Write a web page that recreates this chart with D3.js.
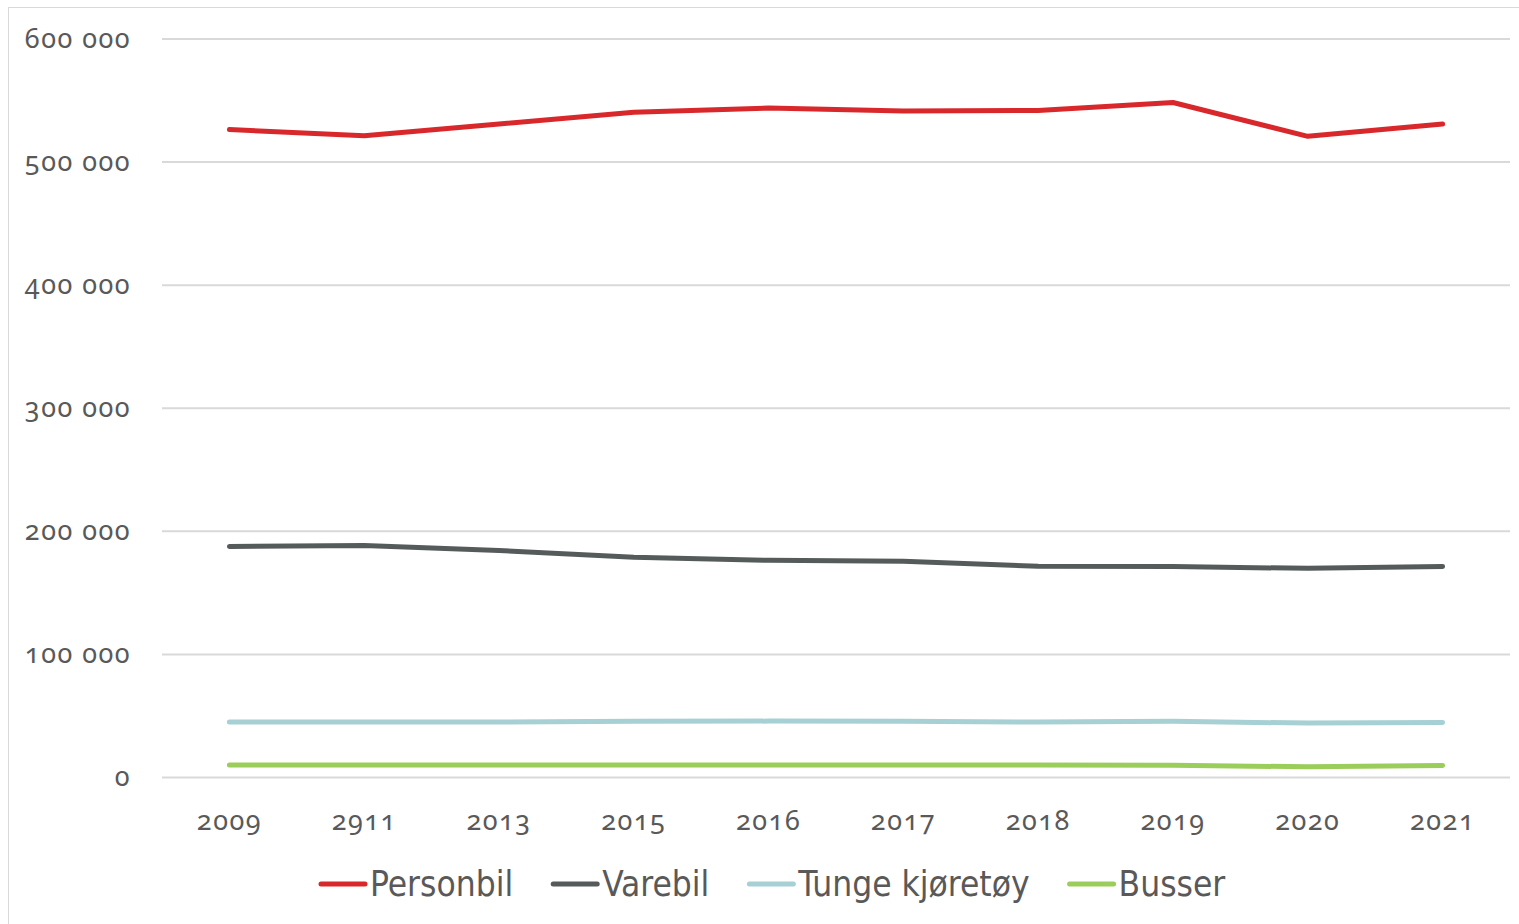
<!DOCTYPE html>
<html>
<head>
<meta charset="utf-8">
<script src="https://cdn.jsdelivr.net/npm/d3@7"></script>
<style>
  body { margin: 0; background: #fff; }
  svg { display: block; }
  .tick text { font-family: "Noto Sans", sans-serif; font-variant-numeric: oldstyle-nums; fill: #595959; letter-spacing: 1.5px; }
  .legend text { font-family: "Liberation Sans Narrow", "DejaVu Sans Condensed", sans-serif; fill: #595959; }
</style>
</head>
<body>
<svg id="chart" width="1519" height="924"></svg>
<script>
var years = ["2009", "2911", "2013", "2015", "2016", "2017", "2018", "2019", "2020", "2021"];
var yTicks = [0, 100000, 200000, 300000, 400000, 500000, 600000];
var seriesNames = ["Personbil", "Varebil", "Tunge kjøretøy", "Busser"];
var seriesColors = ["#d9282b", "#555b5b", "#a6d0d3", "#9bcd5b"];
var personbil = [526000, 521000, 530500, 540000, 543500, 541000, 541500, 548000, 520500, 530500];
var varebil = [187300, 188000, 184000, 178500, 176000, 175200, 171200, 171000, 169500, 171000];
var tunge = [44600, 44600, 44700, 45300, 45400, 45300, 44600, 45200, 43800, 44300];
var busser = [9800, 9800, 9800, 9800, 9800, 9800, 9800, 9500, 8300, 9300];

var svg = d3.select("#chart");
var margin = {top: 38.5, right: 9, bottom: 147, left: 162},
    width = 1519 - margin.left - margin.right,
    height = 924 - margin.top - margin.bottom;

// outer frame, runs off the right and bottom edges like the original
svg.append("rect")
    .attr("x", 8.5).attr("y", 7.5)
    .attr("width", 1600).attr("height", 1000)
    .style("fill", "none").style("stroke", "#d9d9d9");

var g = svg.append("g").attr("transform", "translate(" + margin.left + "," + margin.top + ")");

var x = d3.scaleBand().domain(years).range([0, width]);
var y = d3.scaleLinear().domain([0, 600000]).range([height, 0]);

var fmt = function(d) { return d3.format(",")(d).replace(/,/g, " "); };

g.append("g")
    .attr("class", "y axis")
    .call(d3.axisLeft(y).tickValues(yTicks).tickSize(-width).tickPadding(31).tickFormat(fmt))
    .call(function(a) {
        a.select(".domain").remove();
        a.selectAll("line").style("stroke", "#d9d9d9").style("stroke-width", 2);
        a.selectAll("text").style("font-size", "27px");
    });

g.append("g")
    .attr("class", "x axis")
    .attr("transform", "translate(0," + height + ")")
    .call(d3.axisBottom(x).tickSize(0).tickPadding(34))
    .call(function(a) {
        a.select(".domain").remove();
        a.selectAll("text").style("font-size", "27px");
    });

var allSeries = [personbil, varebil, tunge, busser];
var line = d3.line()
    .x(function(d, i) { return x(years[i]) + x.bandwidth() / 2; })
    .y(function(d) { return y(d); });

// draw bottom-up so the red line sits on top
allSeries.slice().reverse().forEach(function(vals, k) {
    var idx = allSeries.length - 1 - k;
    g.append("path")
        .datum(vals)
        .attr("d", line)
        .style("fill", "none")
        .style("stroke", seriesColors[idx])
        .style("stroke-width", 5)
        .style("stroke-linecap", "round")
        .style("stroke-linejoin", "round");
});

// legend
var legend = svg.append("g").attr("class", "legend").attr("transform", "translate(319,884)");
var xpos = 0;
seriesNames.forEach(function(name, i) {
    var item = legend.append("g").attr("transform", "translate(" + xpos + ",0)");
    item.append("line")
        .attr("x1", 2).attr("x2", 46)
        .style("stroke", seriesColors[i]).style("stroke-width", 5)
        .style("stroke-linecap", "round");
    var t = item.append("text")
        .attr("x", 51).attr("dy", "0.35em")
        .style("font-size", "35px")
        .text(name);
    xpos += 51 + t.node().getComputedTextLength() + 38;
});
</script>
</body>
</html>
